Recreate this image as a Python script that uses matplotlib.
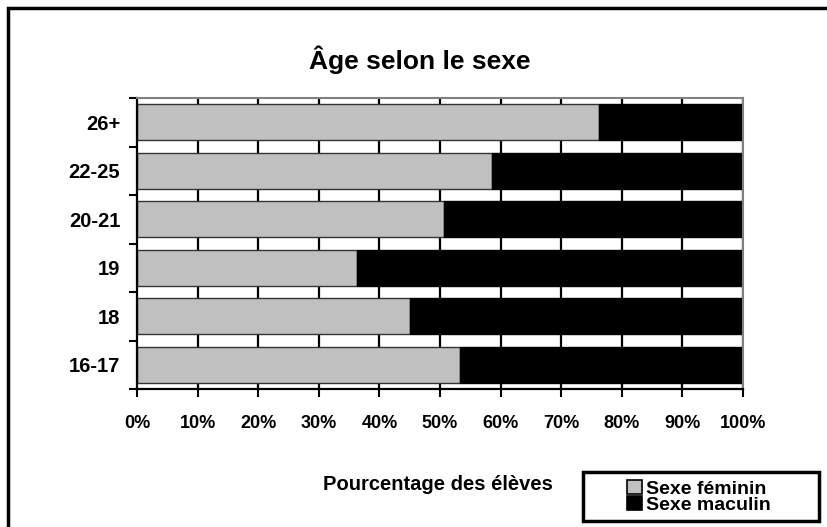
import matplotlib
matplotlib.use("Agg")
import matplotlib.pyplot as plt
from matplotlib.patches import Rectangle, Patch

plt.rcParams['font.family'] = ['Liberation Sans', 'DejaVu Sans']
plt.rcParams['font.weight'] = 'bold'

# Données (de bas en haut)
groupes = ['16-17', '18', '19', '20-21', '22-25', '26+']
feminin = [53.3, 45.0, 36.3, 50.7, 58.5, 76.2]
masculin = [100 - v for v in feminin]
graduations = [0, 10, 20, 30, 40, 50, 60, 70, 80, 90, 100]

W, H = 827, 527
fig = plt.figure(figsize=(W / 100, H / 100), dpi=100)

# cadre extérieur (coupé à droite et en bas)
fig.patches.append(Rectangle((8 / W, -0.2), 1.5, 1 - 8 / H + 0.2, fill=False,
                             lw=2.5, ec='black', transform=fig.transFigure))

ax = fig.add_axes([137 / W, 1 - 389 / H, 606 / W, 291 / H])
pos = list(range(len(groupes)))

for g in graduations[1:]:
    ax.axvline(g, color='black', lw=1.6, zorder=1)

ax.barh(pos, feminin, height=0.74, color='#c0c0c0', edgecolor='#333333', lw=1, zorder=2)
ax.barh(pos, masculin, left=feminin, height=0.74, color='black', edgecolor='black', lw=1, zorder=2)

ax.set_xlim(0, 100)
ax.set_ylim(-0.5, len(groupes) - 0.5)

ax.set_xticks(graduations)
ax.set_xticklabels([f'{g}%' for g in graduations], fontsize=13, fontweight='bold')
ax.tick_params(axis='x', direction='out', length=6, width=1.5, pad=13)

ax.set_yticks(pos)
ax.set_yticklabels(groupes, fontsize=14.5, fontweight='bold')
ax.set_yticks([p - 0.5 for p in pos] + [len(groupes) - 0.5], minor=True)
ax.tick_params(axis='y', which='major', length=0, pad=12)
ax.tick_params(axis='y', which='minor', direction='out', length=6, width=1.5)

ax.spines['left'].set_linewidth(1.6)
ax.spines['bottom'].set_linewidth(1.6)
ax.spines['top'].set_color('#808080')
ax.spines['right'].set_color('#808080')
ax.spines['top'].set_linewidth(1.5)
ax.spines['right'].set_linewidth(1.5)

fig.text(420 / W, 1 - 60 / H, 'Âge selon le sexe', ha='center', va='center',
         fontsize=19, fontweight='bold')
fig.text(438 / W, 1 - 484 / H, 'Pourcentage des élèves', ha='center', va='center',
         fontsize=14.5, fontweight='bold')

# cadre de la légende
fig.patches.append(Rectangle((583 / W, 1 - 521 / H), 236 / W, 49 / H, fill=False,
                             lw=2.5, ec='black', transform=fig.transFigure))

poignees = [Patch(facecolor='#c0c0c0', edgecolor='black', lw=1.2),
            Patch(facecolor='black', edgecolor='black', lw=1.2)]
leg = fig.legend(poignees, ['Sexe féminin', 'Sexe maculin'], loc='center',
                 bbox_to_anchor=(699 / W, 1 - 497 / H), frameon=False,
                 prop={'size': 14, 'weight': 'bold'}, handlelength=0.75,
                 handleheight=0.75, handletextpad=0.2, labelspacing=-0.1,
                 borderpad=0, borderaxespad=0)

fig.savefig('out.png', dpi=100)
